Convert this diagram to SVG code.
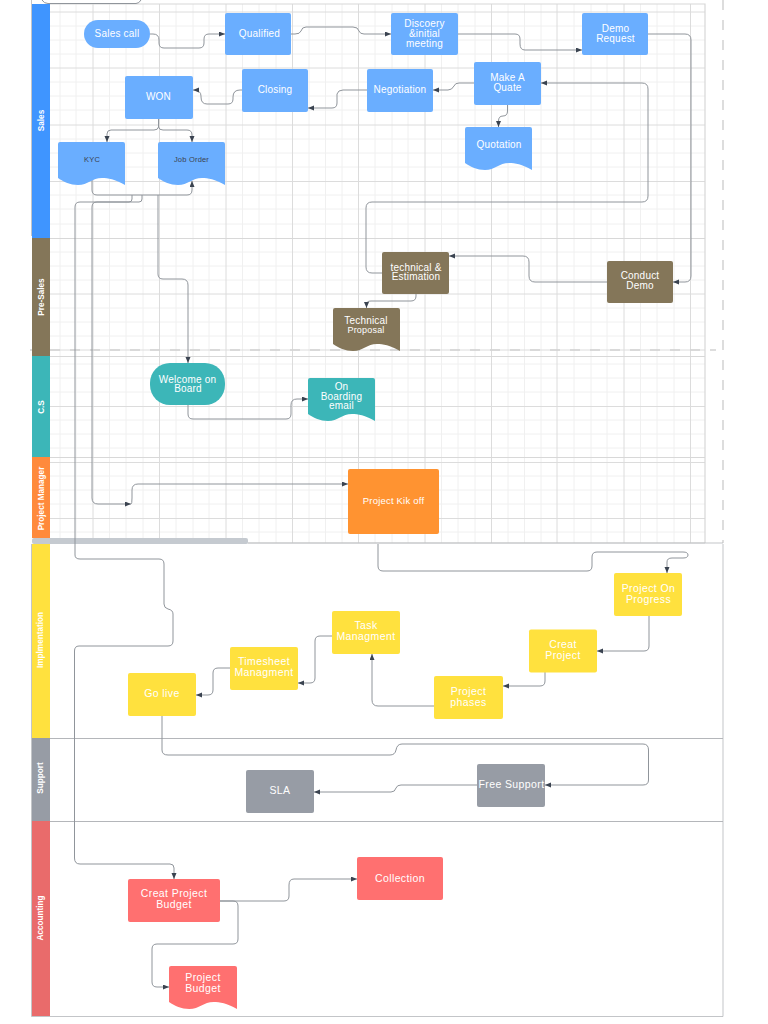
<svg xmlns="http://www.w3.org/2000/svg" width="768" height="1024" viewBox="0 0 768 1024">
<style>
text{font-family:"Liberation Sans",Arial,sans-serif;font-size:10px;fill:#fff;text-anchor:middle;letter-spacing:.2px}
.lane{font-size:8.2px;font-weight:bold;letter-spacing:0}
.y{font-size:10.5px;letter-spacing:.4px}
.dark{font-size:7.5px;fill:#3a4350}
.c{fill:none;stroke:#90959b;stroke-width:1}
.c2{fill:none;stroke:#90959b;stroke-width:1;marker-end:url(#a)}
.minor{stroke:#f0f0f0;stroke-width:1;fill:none}
.major{stroke:#dcdcdc;stroke-width:1;fill:none}
.sep{stroke:#d8d8d8;stroke-width:1.2;fill:none}
.sep2{stroke:#b4b6ba;stroke-width:1;fill:none}
.blue{fill:#6aaeff}.brown{fill:#847659}.teal{fill:#3cb6b8}.orange{fill:#ff9331}.yellow{fill:#ffe13e}.gray{fill:#979ca5}.red{fill:#ff7070}
</style>
<defs>
<marker id="a" markerWidth="7" markerHeight="6" refX="6" refY="2.5" orient="auto" markerUnits="userSpaceOnUse"><path d="M0,0L6,2.5L0,5Z" fill="#3a4350"/></marker>
<path id="doc" d="M2,0H65Q67,0 67,2V43C57,37 50,36 44,36C34,36 30,43 20,43C12,43 6,40 0,36V2Q0,0 2,0Z"/>
</defs>
<rect width="768" height="1024" fill="#fff"/>
<g id="grid">
<path class="minor" d="M50,26H705M50,40H705M50,54H705M50,82H705M50,96H705M50,110H705M50,139H705M50,153H705M50,167H705M50,195H705M50,209H705M50,224H705M50,252H705M50,266H705M50,280H705M50,308H705M50,322H705M50,336H705M50,364H705M50,378H705M50,392H705M50,420H705M50,434H705M50,448H705M50,476H705M50,490H705M50,504H705M50,532H705"/>
<path class="minor" d="M60,4V543M76,4V543M109.500,4V543M126,4V543M143,4V543M176,4V543M193,4V543M209,4V543M242.500,4V543M259,4V543M276,4V543M309,4V543M325.500,4V543M342,4V543M375,4V543M392,4V543M408,4V543M441.500,4V543M458,4V543M475,4V543M508,4V543M524.500,4V543M541,4V543M574,4V543M591,4V543M607,4V543M640.500,4V543M657,4V543M674,4V543"/>
<path class="major" d="M50,12H705M50,68H705M50,125H705M50,181.500H705M50,294H705M50,350H705M50,406.500H705M50,462.500H705M50,518.500H705"/>
<path class="major" d="M93,4V543M159.500,4V543M226,4V543M292.500,4V543M358.500,4V543M425,4V543M491.500,4V543M557,4V543M624,4V543M690.500,4V543"/>
<path class="sep" d="M50,4H705V543M50,238.500H705M50,356.500H705M50,457.500H705M50,543H705"/>
<path d="M723,0V543M30,350H716" fill="none" stroke="#d2d2d2" stroke-width="1.500" stroke-dasharray="10 10"/>
</g>
<g id="lanes">
<rect x="32" y="4" width="18" height="234" fill="#3f95ff"/>
<rect x="32" y="238" width="18" height="118" fill="#847659"/>
<rect x="32" y="356" width="18" height="101" fill="#3cb6b8"/>
<rect x="32" y="457" width="18" height="81" fill="#ff8a3c"/>
<rect x="32" y="544" width="18" height="194" fill="#ffe13e"/>
<rect x="32" y="738" width="18" height="83" fill="#979ca5"/>
<rect x="32" y="821" width="18" height="195" fill="#e96b6b"/>
<path d="M31.500,0V236M31.500,544V1016.500H723V544M248,543H723" class="sep2" stroke-opacity=".8"/>
<path class="sep2" d="M50,738.500H723M50,821.500H723"/>
<rect x="32" y="538" width="216" height="6" rx="2" fill="#c5cad0"/>
<text class="lane" transform="translate(44,120.500) rotate(-90)">Sales</text>
<text class="lane" transform="translate(44,297) rotate(-90)">Pre-Sales</text>
<text class="lane" transform="translate(44,407) rotate(-90)">C.S</text>
<text class="lane" transform="translate(44,498.500) rotate(-90)">Project Manager</text>
<text class="lane" transform="translate(43,640) rotate(-90)">Implmentation</text>
<text class="lane" transform="translate(43,778) rotate(-90)">Support</text>
<text class="lane" transform="translate(43,918) rotate(-90)">Accounting</text>
</g>
<g id="connectors">
<path class="c" d="M42,0Q44,3.500 48,3.500H136Q139,3.500 141,0"/>
<path class="c2" d="M150,34H153Q159,34 159,40V43Q159,48 164,48H199Q204,48 204,43V39Q204,34 209,34H225"/>
<path class="c2" d="M291,34H295Q300,34 301,31Q302,27 306,27H353Q358,27 359,31Q360,34 364,34H391"/>
<path class="c2" d="M458,34H515Q520,34 520,39V44Q520,50 525,50H582"/>
<path class="c2" d="M648,34H685Q691,34 691,40V276Q691,282 685,282H673"/>
<path class="c2" d="M607,282H535Q529,282 529,276V262Q529,256 523,256H449"/>
<path class="c2" d="M382,273H372Q366,273 366,267V208Q366,202 372,202H642Q648,202 648,196V89Q648,83 642,83H541"/>
<path class="c2" d="M474,83H459Q455,83 454,86Q452,90 448,90H433"/>
<path class="c2" d="M367,90H343Q338,90 337,94V103Q337,108 332,108H308"/>
<path class="c2" d="M242,90H240Q233,90 233,97V99Q233,104 228,104H207Q201,104 201,97V96Q201,90 193,90"/>
<path class="c2" d="M158.500,119V127Q158,130 154,130H111Q107,130 107,134V142"/>
<path class="c2" d="M158.500,119V127Q159,130 163,130H187Q192,130 192,135V142"/>
<path class="c2" d="M92,180V190Q92,195 97,195H187Q192,195 192,190V181"/>
<path class="c" d="M132,195V199Q132,202 129,202H80Q75,202 75,207V555Q75,559 80,559H159Q164,559 164,564V604Q164,608 168,609Q173,610 173,614V641Q173,646 168,646H79Q74.500,646 74.500,651V858Q74.500,864 80,864H170"/>
<path class="c2" d="M170,864Q174,864 174,868V879"/>
<path class="c2" d="M142,195V199Q142,202 139,202H97Q92,202 92,207V498Q92,504 98,504H131"/>
<path class="c2" d="M131,504Q132,504 132,498V490Q132,484 138,484H348"/>
<path class="c2" d="M158,195V274Q158,279 163,279H182Q188,279 188,285V363"/>
<path class="c2" d="M188,405V414Q188,419 193,419H286Q291,419 291,414V405Q291,399 297,399H308"/>
<path class="c2" d="M507.500,105V111Q507.500,116 503,116Q498.500,116 498.500,121V127"/>
<path class="c2" d="M416,294V296Q416,301 411,301H371Q366.500,301 366.500,304V308"/>
<path class="c2" d="M378,544V566Q378,571 383,571H587Q592,571 592,566V557Q592,552 597,552H683Q688,552 688,555Q688,558 683,558H672Q667,558 667,562V573"/>
<path class="c2" d="M649,616V646Q649,651 644,651H597"/>
<path class="c2" d="M545,672V681Q545,686 540,686H503"/>
<path class="c2" d="M434,706H378Q372,706 372,700V654"/>
<path class="c2" d="M332,636H320Q315,636 315,641V678Q315,683 310,683H298"/>
<path class="c2" d="M230,668H218Q213,668 213,673V690Q213,695 208,695H196"/>
<path class="c2" d="M162,716V750Q162,755 168,755H390Q395,755 396,750Q397,744 402,744H643Q648.500,744 648.500,750V780Q648.500,785 643,785H545"/>
<path class="c2" d="M477,785H401Q397,785 396,788Q395,792 391,792H314"/>
<path class="c2" d="M220,901H284Q289,901 289,896V885Q289,879 294,879H357"/>
<path class="c2" d="M220,901H233Q238,901 238,906V939Q238,944 233,944H157Q152,944 152,949V982Q152,987 157,987H169"/>
</g>
<g id="sales-call"><rect class="blue" x="84" y="20" width="66" height="28" rx="14"/><text x="117" y="36.500">Sales call</text></g>
<g id="qualified"><rect class="blue" x="225" y="13" width="66" height="42" rx="2"/><text x="259.500" y="37">Qualified</text></g>
<g id="discovery"><rect class="blue" x="391" y="13" width="67" height="42" rx="2"/><text x="424.500" y="27">Discoery</text><text x="424.500" y="37">&amp;initial</text><text x="424.500" y="47">meeting</text></g>
<g id="demo-request"><rect class="blue" x="582" y="13" width="66" height="42" rx="2"/><text x="615.500" y="32">Demo</text><text x="615.500" y="42">Request</text></g>
<g id="make-quote"><rect class="blue" x="474" y="62" width="67" height="43" rx="2"/><text x="507.500" y="81">Make A</text><text x="507.500" y="91">Quate</text></g>
<g id="negotiation"><rect class="blue" x="367" y="69" width="66" height="43" rx="2"/><text x="400" y="93">Negotiation</text></g>
<g id="closing"><rect class="blue" x="242" y="69" width="66" height="43" rx="2"/><text x="275" y="93">Closing</text></g>
<g id="won"><rect class="blue" x="125" y="76" width="68" height="43" rx="2"/><text x="158.500" y="100">WON</text></g>
<g id="kyc"><use href="#doc" class="blue" transform="translate(58,142)"/><text class="dark" x="92" y="162">KYC</text></g>
<g id="job-order"><use href="#doc" class="blue" transform="translate(158,142)"/><text class="dark" x="191.500" y="162">Job Order</text></g>
<g id="quotation"><use href="#doc" class="blue" transform="translate(465,127)"/><text x="499" y="147.500">Quotation</text></g>
<g id="technical"><rect class="brown" x="382" y="252" width="67" height="42" rx="2"/><text x="416" y="270.500">technical &amp;</text><text x="416" y="280">Estimation</text></g>
<g id="conduct-demo"><rect class="brown" x="607" y="261" width="66" height="42" rx="2"/><text x="640" y="279">Conduct</text><text x="640" y="289">Demo</text></g>
<g id="technical-proposal"><use href="#doc" class="brown" transform="translate(333,308)"/><text x="366" y="323.500">Technical</text><text x="366" y="332.500" style="font-size:9px">Proposal</text></g>
<g id="welcome"><rect class="teal" x="150" y="363" width="75" height="42" rx="20"/><text x="187.500" y="382.500">Welcome on</text><text x="188" y="392">Board</text></g>
<g id="on-boarding"><use href="#doc" class="teal" transform="translate(308,378)"/><text x="341.500" y="389.500">On</text><text x="341.500" y="400">Boarding</text><text x="341.500" y="409">email</text></g>
<g id="kick-off"><rect class="orange" x="348" y="469" width="91" height="65" rx="2"/><text x="393.500" y="503.500" style="font-size:9.500px">Project Kik off</text></g>
<g id="on-progress"><rect class="yellow" x="614" y="573" width="68" height="43" rx="2"/><text class="y" x="648.500" y="591.500">Project On</text><text class="y" x="648.500" y="602.500">Progress</text></g>
<g id="creat-project"><rect class="yellow" x="529" y="629.500" width="68" height="43" rx="2"/><text class="y" x="563" y="648">Creat</text><text class="y" x="563" y="659">Project</text></g>
<g id="phases"><rect class="yellow" x="434" y="676" width="69" height="43" rx="2"/><text class="y" x="468.500" y="694.500">Project</text><text class="y" x="468.500" y="705.500">phases</text></g>
<g id="task"><rect class="yellow" x="332" y="611" width="68" height="43" rx="2"/><text class="y" x="366" y="629">Task</text><text class="y" x="366" y="640">Managment</text></g>
<g id="timesheet"><rect class="yellow" x="230" y="647" width="68" height="43" rx="2"/><text class="y" x="264" y="665">Timesheet</text><text class="y" x="264" y="676">Managment</text></g>
<g id="go-live"><rect class="yellow" x="128" y="673" width="68" height="43" rx="2"/><text class="y" x="162" y="697">Go live</text></g>
<g id="free-support"><rect class="gray" x="477" y="764" width="68" height="43" rx="2"/><text class="y" x="511.500" y="788">Free Support</text></g>
<g id="sla"><rect class="gray" x="246" y="770" width="68" height="43" rx="2"/><text class="y" x="280" y="794">SLA</text></g>
<g id="budget"><rect class="red" x="128" y="879" width="92" height="43" rx="2"/><text class="y" x="174" y="897">Creat Project</text><text class="y" x="174" y="908">Budget</text></g>
<g id="collection"><rect class="red" x="357" y="857" width="86" height="43" rx="2"/><text class="y" x="400" y="881.500">Collection</text></g>
<g id="project-budget"><use href="#doc" class="red" transform="translate(169,966) scale(1.015,1)"/><text class="y" x="203" y="980.500">Project</text><text class="y" x="203" y="991.500">Budget</text></g>
</svg>
